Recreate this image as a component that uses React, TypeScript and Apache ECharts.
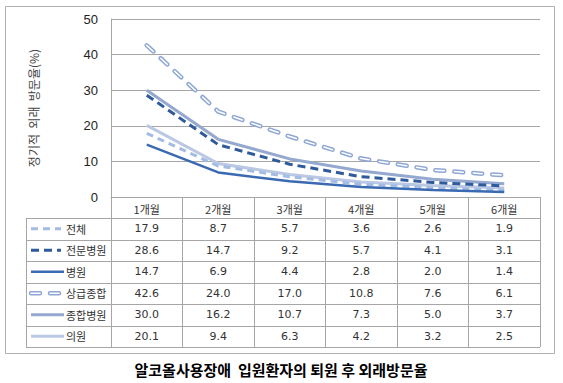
import React, { useEffect, useRef } from "react";
import * as echarts from "echarts";

const categories = ["1개월", "2개월", "3개월", "4개월", "5개월", "6개월"];
const seriesNames = ["전체", "전문병원", "병원", "상급종합", "종합병원", "의원"];
const total = [17.9, 8.7, 5.7, 3.6, 2.6, 1.9];
const specialty = [28.6, 14.7, 9.2, 5.7, 4.1, 3.1];
const hospital = [14.7, 6.9, 4.4, 2.8, 2.0, 1.4];
const tertiary = [42.6, 24.0, 17.0, 10.8, 7.6, 6.1];
const general = [30.0, 16.2, 10.7, 7.3, 5.0, 3.7];
const clinic = [20.1, 9.4, 6.3, 4.2, 3.2, 2.5];
const yTicks = [0, 10, 20, 30, 40, 50];
const yTitle = "정기적  외래  방문율(%)";
const chartTitle = "알코올사용장애  입원환자의 퇴원 후 외래방문율";

const KR = "'Noto Sans CJK KR', 'Noto Sans', sans-serif";
const GRID = "#a6a6a6";

type Sty = { color: string; width: number; type: any; cap?: string; inner?: boolean };
const styles: Sty[] = [
  { color: "#a4bce3", width: 3, type: [7, 5] },
  { color: "#2f5b9c", width: 3, type: [8, 5] },
  { color: "#3a6ab2", width: 2.5, type: "solid" },
  { color: "#8ea7d4", width: 4.5, type: [9, 10], cap: "round", inner: true },
  { color: "#95a8d0", width: 3, type: "solid" },
  { color: "#bac8e3", width: 3, type: "solid" },
];
const dataList = [total, specialty, hospital, tertiary, general, clinic];

export default function App() {
  const ref = useRef<HTMLDivElement>(null);
  useEffect(() => {
    if (!ref.current) return;
    const chart = echarts.init(ref.current, undefined, { renderer: "svg" });
    const mk = (i: number, inner = false) => ({
      name: seriesNames[i] + (inner ? "_in" : ""),
      type: "line",
      data: dataList[i],
      symbol: "none",
      silent: true,
      lineStyle: inner
        ? { color: "#ffffff", width: 1.5, type: styles[i].type, cap: "round" }
        : { color: styles[i].color, width: styles[i].width, type: styles[i].type, cap: styles[i].cap || "butt" },
    });
    const order = [5, 4, 3, 0, 2, 1];
    const series: any[] = [];
    order.forEach((i) => {
      series.push(mk(i));
      if (styles[i].inner) series.push(mk(i, true));
    });
    chart.setOption({
      animation: false,
      grid: { left: 111, right: 23, top: 19, bottom: 186 },
      xAxis: {
        type: "category",
        data: categories,
        boundaryGap: true,
        axisLine: { show: true, lineStyle: { color: GRID, width: 1 } },
        axisTick: { show: true, length: 150, lineStyle: { color: GRID, width: 1 } },
        axisLabel: { margin: 6, fontSize: 11, color: "#333", fontFamily: KR, verticalAlign: "top" },
      },
      yAxis: {
        type: "value",
        min: yTicks[0],
        max: yTicks[yTicks.length - 1],
        interval: 10,
        axisLine: { show: true, lineStyle: { color: GRID, width: 1 } },
        axisTick: { show: false },
        splitLine: { lineStyle: { color: GRID, width: 1 } },
        axisLabel: { margin: 13, fontSize: 13, color: "#222", fontFamily: "'Liberation Sans', Arial, sans-serif" },
      },
      series,
    });

    const xs = categories.map((c) => chart.convertToPixel({ xAxisIndex: 0 }, c) as number);
    const rowTop = 218;
    const rowH = 21.5;
    const left = 26;
    const right = 540;
    const g: any[] = [];
    g.push({
      type: "rect",
      shape: { x: 5.5, y: 6.5, width: 549, height: 347 },
      style: { fill: "none", stroke: "#b0b0b0", lineWidth: 1 },
      silent: true,
    });
    for (let r = 0; r <= seriesNames.length; r++) {
      const y = Math.round(rowTop + r * rowH) + 0.5;
      g.push({ type: "line", shape: { x1: left, y1: y, x2: right, y2: y }, style: { stroke: GRID, lineWidth: 1 }, silent: true });
    }
    g.push({
      type: "line",
      shape: { x1: left + 0.5, y1: rowTop + 0.5, x2: left + 0.5, y2: Math.round(rowTop + 6 * rowH) + 0.5 },
      style: { stroke: GRID, lineWidth: 1 },
      silent: true,
    });
    seriesNames.forEach((name, i) => {
      const cy = rowTop + (i + 0.5) * rowH;
      const s = styles[i];
      g.push({
        type: "line",
        shape: { x1: 31, y1: cy, x2: s.type === "solid" ? 64 : 61, y2: cy },
        style: { stroke: s.color, lineWidth: s.width, lineDash: s.type === "solid" ? null : s.type, lineCap: s.cap || "butt" },
        silent: true,
      });
      if (s.inner) {
        g.push({
          type: "line",
          shape: { x1: 31, y1: cy, x2: 61, y2: cy },
          style: { stroke: "#fff", lineWidth: 1.5, lineDash: s.type, lineCap: "round" },
          silent: true,
        });
      }
      g.push({
        type: "text",
        x: 66,
        y: cy,
        style: { text: name, fontSize: 11, fill: "#333", fontFamily: KR, align: "left", verticalAlign: "middle" },
        silent: true,
      });
      dataList[i].forEach((v, j) => {
        g.push({
          type: "text",
          x: xs[j],
          y: cy,
          style: { text: v.toFixed(1), fontSize: 11, fill: "#333", fontFamily: "'DejaVu Sans', sans-serif", align: "center", verticalAlign: "middle" },
          silent: true,
        });
      });
    });
    g.push({
      type: "text",
      x: 33,
      y: 108,
      rotation: Math.PI / 2,
      style: { text: yTitle, fontSize: 12, fill: "#444", fontFamily: KR, align: "center", verticalAlign: "middle" },
      silent: true,
    });
    g.push({
      type: "text",
      x: 281,
      y: 369,
      style: { text: chartTitle, fontSize: 15, fontWeight: "bold", fill: "#000", fontFamily: KR, align: "center", verticalAlign: "middle" },
      silent: true,
    });
    chart.setOption({ graphic: g });
    return () => chart.dispose();
  }, []);
  return <div ref={ref} style={{ width: 563, height: 383, position: "absolute", left: 0, top: 0 }} />;
}
